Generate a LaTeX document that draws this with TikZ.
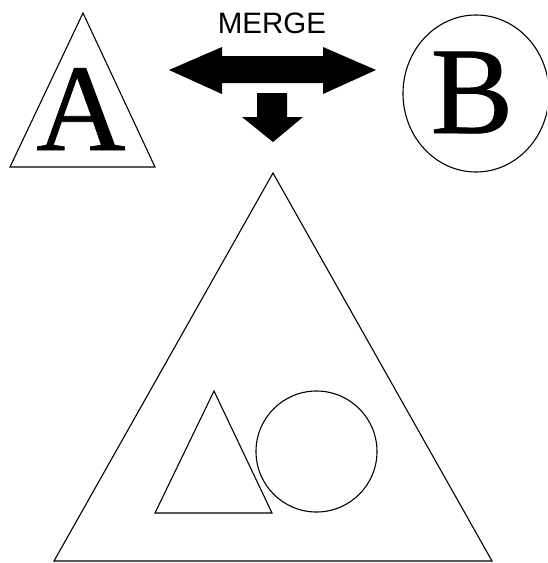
\documentclass[tikz,border=0pt]{standalone}
\usepackage{fontspec}
\setmainfont{Liberation Serif}
\newfontfamily\letterfont[FakeBold=0.6]{Liberation Serif}
\newfontfamily\mergefont{Liberation Sans}
\begin{document}
\begin{tikzpicture}[x=1pt,y=-1pt,
  outline/.style={draw=black,line width=1.1pt,line join=miter},
  bigletter/.style={inner sep=0pt,anchor=base,font=\letterfont\fontsize{124}{124}\selectfont},
  labeltext/.style={inner sep=0pt,anchor=base,font=\mergefont\fontsize{29.5}{30}\selectfont}]
\useasboundingbox (0,0) rectangle (547,563);
\begin{scope}
\clip (0,0) rectangle (547,563);
% triangle A
\draw[outline] (83,13) -- (155,167) -- (10,167) -- cycle;
\node[bigletter] (a) at (81,150) {A};
% circle B
\draw[outline] (476,93.5) ellipse [x radius=73, y radius=78.5];
\node[bigletter] (b) at (472,133) {B};
% merge label
\node[labeltext] (merge) at (272,33) {MERGE};
% double arrow
\fill[black] (169,70) -- (222,47) -- (222,56) -- (323,56) -- (323,47) -- (376,70)
  -- (323,94) -- (323,83) -- (222,83) -- (222,94) -- cycle;
% down arrow
\fill[black] (257,93) -- (287,93) -- (287,117) -- (303,117) -- (273,142)
  -- (242,117) -- (257,117) -- cycle;
% big triangle
\draw[outline] (273,173) -- (492,561) -- (54,561) -- cycle;
% inner triangle
\draw[outline] (214,391) -- (272,513) -- (155,513) -- cycle;
% inner circle
\draw[outline] (316.5,451.5) circle [radius=60.5];
\end{scope}
\end{tikzpicture}
\end{document}
